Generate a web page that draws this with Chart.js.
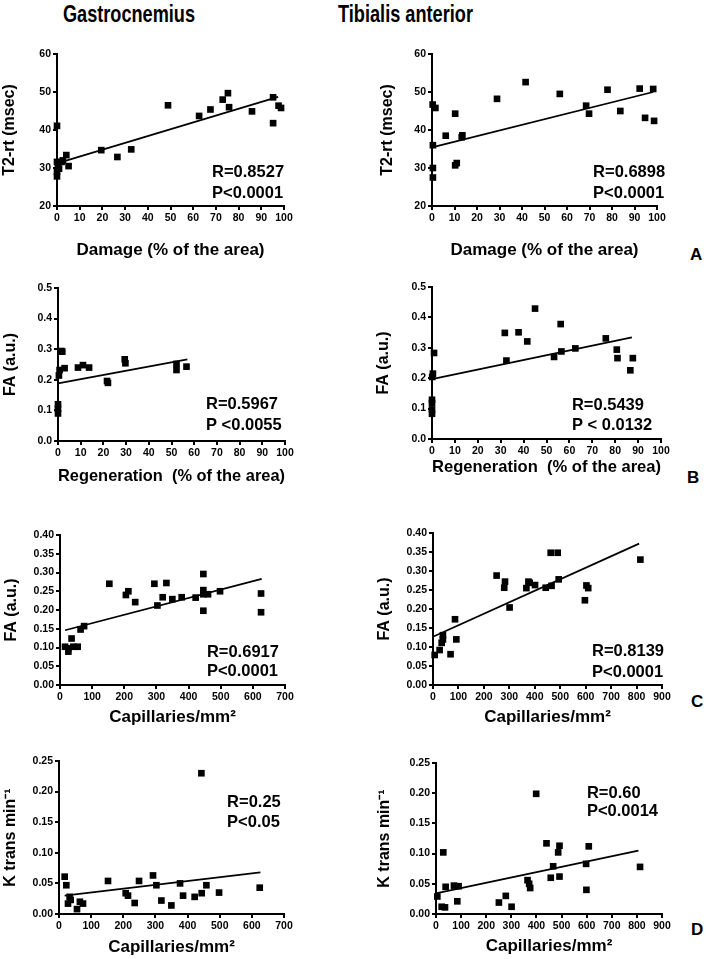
<!DOCTYPE html>
<html>
<head>
<meta charset="utf-8">
<script src="https://cdn.jsdelivr.net/npm/chart.js@4.4.0/dist/chart.umd.min.js"></script>
<style>
  body { margin: 0; background: #fff; width: 706px; height: 959px; position: relative; overflow: hidden; }
  canvas { position: absolute; }
  .head { position: absolute; top: 0; line-height: 28px; white-space: nowrap;
          font: bold 24px "Liberation Sans", Arial, sans-serif; }
  .tag { position: absolute; line-height: 20px; font: bold 17px "Liberation Sans", Arial, sans-serif; }
</style>
</head>
<body>
<div class="head" data-cx="129" data-w="132">Gastrocnemius</div>
<div class="head" data-cx="405" data-w="135">Tibialis anterior</div>
<div class="tag" style="left:690px;top:245px">A</div>
<div class="tag" style="left:687px;top:468px">B</div>
<div class="tag" style="left:691px;top:692px">C</div>
<div class="tag" style="left:691px;top:920px">D</div>
<script>
// A - damage vs T2 relaxation time
var gasDamage = [0, 0, 0.4, 0, 0, 0.9, 2, 2.6, 4.1, 5.1, 19.5, 26.6, 32.7, 48.9, 62.6, 67.6, 73, 75.3, 75.8, 85.9, 95.2, 95.2, 97.6, 98.7];
var gasT2 = [41.1, 31.6, 30.3, 29, 27.8, 29.8, 31.6, 32, 33.4, 30.5, 34.7, 32.9, 34.9, 46.5, 43.7, 45.4, 48, 49.7, 46, 44.9, 48.6, 41.8, 46.4, 45.8];
var gasT2FitX = [0, 97.4];
var gasT2FitY = [31.2, 48.7];

var tibDamage = [0.3, 1.5, 0.4, 0.4, 0.4, 6.1, 10.3, 10.3, 11, 13.2, 13.5, 28.9, 41.6, 56.8, 68.5, 69.8, 78, 83.7, 92.3, 94.7, 98.3, 98.7];
var tibT2 = [46.7, 45.8, 36, 30, 27.5, 38.5, 44.3, 30.7, 31.3, 38.1, 38.6, 48.2, 52.6, 49.5, 46.4, 44.3, 50.6, 45, 50.9, 43.2, 50.8, 42.4];
var tibT2FitX = [0, 98.3];
var tibT2FitY = [35.4, 50];

// B - regeneration vs FA
var gasRegen = [0, 0, 0, 0.4, 0.7, 1.5, 1.9, 2.9, 8.8, 11, 13.7, 21.6, 22, 29.4, 29.7, 52.2, 52.2, 56.6];
var gasFaRegen = [0.12, 0.106, 0.09, 0.214, 0.232, 0.294, 0.292, 0.238, 0.24, 0.248, 0.24, 0.196, 0.19, 0.267, 0.254, 0.252, 0.232, 0.243];
var gasRegenFitX = [0, 57];
var gasRegenFitY = [0.188, 0.267];

var tibRegen = [0, 0, 0, 0, 0.9, 0.4, 0.1, 31.8, 32.5, 37.8, 41.6, 45, 53.3, 56.2, 56.5, 62.6, 75.9, 80.7, 81, 86.6, 87.7];
var tibFaRegen = [0.118, 0.129, 0.097, 0.083, 0.283, 0.215, 0.204, 0.349, 0.258, 0.351, 0.321, 0.429, 0.27, 0.378, 0.288, 0.298, 0.331, 0.294, 0.266, 0.226, 0.266];
var tibRegenFitX = [0, 87.3];
var tibRegenFitY = [0.197, 0.334];

// C - capillaries vs FA
var gasCap = [15.6, 26, 26, 36, 41.5, 55, 64, 75, 153.5, 205, 212.7, 234, 293.6, 303, 319.5, 331, 349.6, 378.6, 422, 446, 446, 446, 446, 460.6, 497.9, 625.5, 625.5];
var gasFaCap = [0.102, 0.098, 0.089, 0.124, 0.102, 0.102, 0.148, 0.157, 0.27, 0.24, 0.25, 0.221, 0.27, 0.212, 0.234, 0.272, 0.229, 0.234, 0.233, 0.296, 0.253, 0.242, 0.198, 0.242, 0.25, 0.244, 0.194];
var gasCapFitX = [15.6, 627.6];
var gasCapFitY = [0.146, 0.283];

var tibCap = [6.6, 26, 34, 39, 39, 69, 86.5, 91.7, 250, 280, 283, 301, 367, 375, 380, 401, 443, 462.5, 466, 490, 494, 597, 603, 610, 815];
var tibFaCap = [0.079, 0.092, 0.111, 0.12, 0.131, 0.081, 0.173, 0.12, 0.288, 0.256, 0.272, 0.204, 0.255, 0.272, 0.269, 0.263, 0.256, 0.348, 0.261, 0.348, 0.278, 0.223, 0.262, 0.255, 0.33];
var tibCapFitX = [0, 810];
var tibCapFitY = [0.127, 0.372];

// D - capillaries vs K trans
var gasCapK = [17.6, 22.8, 28, 33, 36.3, 56, 65, 74.7, 152.5, 207.5, 214.7, 235.5, 249, 292.5, 303, 318.5, 349.6, 376.6, 386, 422, 443, 444, 458.5, 498, 624.5];
var gasKtrans = [0.061, 0.047, 0.017, 0.028, 0.023, 0.008, 0.02, 0.017, 0.054, 0.034, 0.03, 0.018, 0.054, 0.063, 0.047, 0.022, 0.014, 0.05, 0.03, 0.028, 0.23, 0.034, 0.047, 0.035, 0.043];
var gasKFitX = [17.6, 626.6];
var gasKFitY = [0.03, 0.068];

var tibCapK = [5.3, 22.5, 29, 35.8, 38.4, 71.6, 84.8, 90, 250.5, 278, 301, 364.5, 371, 375, 399, 440, 457, 466.5, 486.5, 491.8, 491.8, 597.8, 599, 608.4, 812.6];
var tibKtrans = [0.029, 0.012, 0.102, 0.011, 0.045, 0.047, 0.021, 0.046, 0.019, 0.03, 0.012, 0.056, 0.05, 0.043, 0.199, 0.117, 0.06, 0.079, 0.102, 0.113, 0.062, 0.083, 0.04, 0.112, 0.078];
var tibKFitX = [0, 806];
var tibKFitY = [0.034, 0.105];

var FONT = '"Liberation Sans", Arial, sans-serif';

// headers are a condensed face in the original, squeeze regular bold to the same width
document.querySelectorAll('.head').forEach(function(h) {
  var w = h.getBoundingClientRect().width;
  var target = +h.dataset.w;
  h.style.left = (h.dataset.cx - target / 2) + 'px';
  h.style.transformOrigin = '0 0';
  h.style.transform = 'scaleX(' + (target / w) + ')';
});

// R / P text, placed in data units
var statPlugin = {
  id: 'stats',
  afterDatasetsDraw: function(chart, args, opts) {
    var ctx = chart.ctx;
    ctx.save();
    ctx.font = 'bold 16.5px ' + FONT;
    ctx.fillStyle = '#000';
    ctx.textBaseline = 'middle';
    var x = chart.scales.x.getPixelForValue(opts.x);
    for (var i = 0; i < opts.lines.length; i++) {
      ctx.fillText(opts.lines[i], x, chart.scales.y.getPixelForValue(opts.y[i]));
    }
    ctx.restore();
  }
};

function toPoints(xs, ys) {
  var out = [];
  for (var i = 0; i < xs.length; i++) out.push({x: xs[i], y: ys[i]});
  return out;
}

var panels = [
  {left: 0, top: 40, width: 300, height: 221, area: {l: 57, r: 284, t: 54, b: 206},
   xs: gasDamage, ys: gasT2, fx: gasT2FitX, fy: gasT2FitY,
   xr: [0, 100, 10], yr: [20, 60, 10], dec: 0,
   xTitle: 'Damage (% of the area)', yTitle: 'T2-rt (msec)',
   stats: ['R=0.8527', 'P<0.0001'], sx: 68.3, sy: [28.7, 23.2]},
  {left: 378, top: 40, width: 295, height: 221, area: {l: 432, r: 657, t: 54, b: 206},
   xs: tibDamage, ys: tibT2, fx: tibT2FitX, fy: tibT2FitY,
   xr: [0, 100, 10], yr: [20, 60, 10], dec: 0,
   xTitle: 'Damage (% of the area)', yTitle: 'T2-rt (msec)',
   stats: ['R=0.6898', 'P<0.0001'], sx: 71.6, sy: [28.7, 23.2]},
  {left: 1, top: 274, width: 300, height: 213, area: {l: 58, r: 285, t: 288, b: 441},
   xs: gasRegen, ys: gasFaRegen, fx: gasRegenFitX, fy: gasRegenFitY,
   xr: [0, 100, 10], yr: [0, 0.5, 0.1], dec: 1,
   xTitle: 'Regeneration  (% of the area)', yTitle: 'FA (a.u.)',
   stats: ['R=0.5967', 'P <0.0055'], sx: 65.2, sy: [0.118, 0.052]},
  {left: 374, top: 273, width: 303, height: 205, area: {l: 432, r: 661, t: 287, b: 439},
   xs: tibRegen, ys: tibFaRegen, fx: tibRegenFitX, fy: tibRegenFitY,
   xr: [0, 100, 10], yr: [0, 0.5, 0.1], dec: 1,
   xTitle: 'Regeneration  (% of the area)', yTitle: 'FA (a.u.)',
   stats: ['R=0.5439', 'P < 0.0132'], sx: 61.1, sy: [0.109, 0.046]},
  {left: 2, top: 521, width: 299, height: 207, area: {l: 60, r: 285, t: 535, b: 685},
   xs: gasCap, ys: gasFaCap, fx: gasCapFitX, fy: gasCapFitY,
   xr: [0, 700, 100], yr: [0, 0.4, 0.05], dec: 2,
   xTitle: 'Capillaries/mm\u00b2', yTitle: 'FA (a.u.)',
   stats: ['R=0.6917', 'P<0.0001'], sx: 457, sy: [0.088, 0.035]},
  {left: 375, top: 519, width: 303, height: 209, area: {l: 433, r: 662, t: 533, b: 685},
   xs: tibCap, ys: tibFaCap, fx: tibCapFitX, fy: tibCapFitY,
   xr: [0, 900, 100], yr: [0, 0.4, 0.05], dec: 2,
   xTitle: 'Capillaries/mm\u00b2', yTitle: 'FA (a.u.)',
   stats: ['R=0.8139', 'P<0.0001'], sx: 625, sy: [0.087, 0.034]},
  {left: 1, top: 747, width: 299, height: 211, area: {l: 59, r: 284, t: 761, b: 914},
   xs: gasCapK, ys: gasKtrans, fx: gasKFitX, fy: gasKFitY,
   xr: [0, 700, 100], yr: [0, 0.25, 0.05], dec: 2,
   xTitle: 'Capillaries/mm\u00b2', yTitle: 'K trans min\u207b\u00b9',
   stats: ['R=0.25', 'P<0.05'], sx: 523, sy: [0.183, 0.15]},
  {left: 375, top: 749, width: 303, height: 208, area: {l: 436, r: 662, t: 763, b: 914},
   xs: tibCapK, ys: tibKtrans, fx: tibKFitX, fy: tibKFitY,
   xr: [0, 900, 100], yr: [0, 0.25, 0.05], dec: 2,
   xTitle: 'Capillaries/mm\u00b2', yTitle: 'K trans min\u207b\u00b9',
   stats: ['R=0.60', 'P<0.0014'], sx: 601, sy: [0.2, 0.169]}
];

var axisGrid = {drawOnChartArea: false, drawTicks: true, tickLength: 4, color: '#000', lineWidth: 2};
var axisBorder = {display: true, color: '#000', width: 2};
var tickFont = {family: FONT, size: 10.5, weight: 'bold'};

panels.forEach(function(p) {
  var c = document.createElement('canvas');
  c.width = p.width;
  c.height = p.height;
  c.style.left = p.left + 'px';
  c.style.top = p.top + 'px';
  document.body.appendChild(c);

  var yw = p.area.l - p.left;
  var xh = p.top + p.height - p.area.b;

  new Chart(c, {
    type: 'scatter',
    data: {
      datasets: [
        {data: toPoints(p.xs, p.ys), pointStyle: 'rect', pointRadius: 4.7, backgroundColor: '#000', borderWidth: 0, clip: false},
        {data: toPoints(p.fx, p.fy), showLine: true, borderColor: '#000', borderWidth: 1.8, pointRadius: 0, clip: false}
      ]
    },
    options: {
      responsive: false,
      animation: false,
      events: [],
      layout: {padding: {left: 0, top: p.area.t - p.top, right: p.left + p.width - p.area.r, bottom: 0}},
      plugins: {
        legend: {display: false},
        tooltip: {enabled: false},
        stats: {lines: p.stats, x: p.sx, y: p.sy}
      },
      scales: {
        x: {
          type: 'linear', min: p.xr[0], max: p.xr[1],
          ticks: {stepSize: p.xr[2], autoSkip: false, maxRotation: 0, minRotation: 0, padding: 2, color: '#000', font: tickFont},
          grid: axisGrid, border: axisBorder,
          title: {display: true, text: p.xTitle, color: '#000', padding: 0, font: {family: FONT, size: 17, weight: 'bold', lineHeight: 1.2}},
          afterFit: function(s) { s.height = xh; }
        },
        y: {
          type: 'linear', min: p.yr[0], max: p.yr[1],
          ticks: {stepSize: p.yr[2], padding: 2, color: '#000', font: tickFont,
                  callback: function(v) { return v.toFixed(p.dec); }},
          grid: axisGrid, border: axisBorder,
          title: {display: true, text: p.yTitle, color: '#000', padding: 0, font: {family: FONT, size: 16, weight: 'bold', lineHeight: 1.2}},
          afterFit: function(s) { s.width = yw; }
        }
      }
    },
    plugins: [statPlugin]
  });
});
</script>
</body>
</html>
